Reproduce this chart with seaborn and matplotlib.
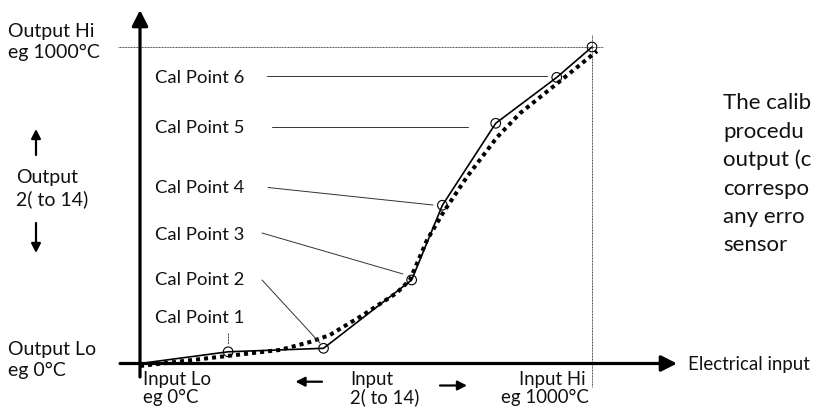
import matplotlib
matplotlib.use('Agg')
import matplotlib.pyplot as plt
import pandas as pd
import seaborn as sns

# values, input and output both on a 0..1000 degC scale
cal_input = [0, 195, 406, 601, 669, 787, 922, 1000]
cal_output = [0, 37, 48, 264, 500, 759, 904, 1000]
sensor_input = [0, 195, 310, 376, 420, 493, 568, 597, 635, 670, 723, 790, 841, 923, 1011]
sensor_output = [-8, 24, 43, 68, 90, 153, 223, 264, 390, 475, 589, 715, 791, 885, 987]
cal_labels = ['Cal Point 1', 'Cal Point 2', 'Cal Point 3', 'Cal Point 4', 'Cal Point 5', 'Cal Point 6']
note_lines = ['The calib', 'procedu', 'output (c', 'correspo', 'any erro', 'sensor']

cal = pd.DataFrame({'input': cal_input, 'output': cal_output})
sensor = pd.DataFrame({'input': sensor_input, 'output': sensor_output})

sns.set_style('white')
plt.rcParams['font.family'] = ['Lato', 'DejaVu Sans']

W, H = 813, 408
X0, X1 = 140, 592      # pixel of input lo / hi
Y0, Y1 = 363.5, 47     # pixel of output lo / hi
sx = (X1 - X0) / 1000
sy = (Y0 - Y1) / 1000

def px(x, y):
    # pixel position -> data position
    return (x - X0) / sx, (Y0 - y) / sy

fig = plt.figure(figsize=(W / 100, H / 100), dpi=100)
ax = fig.add_axes([0, 0, 1, 1])
ax.set_xlim((0 - X0) / sx, (W - X0) / sx)
ax.set_ylim((Y0 - H) / sy, Y0 / sy)
ax.axis('off')

def ftext(x, y, s, size=13, ha='left'):
    fig.text(x / W, 1 - y / H, s, fontsize=size, ha=ha, va='baseline', color='#111111')

def arrow(tail, tip, lw, hl, hw):
    ax.annotate('', xy=px(*tip), xytext=px(*tail),
                arrowprops=dict(arrowstyle='-|>,head_length=%s,head_width=%s' % (hl, hw),
                                lw=lw, color='black', mutation_scale=10,
                                shrinkA=0, shrinkB=0))

# reference lines at output hi / input hi
ax.plot([px(118, 0)[0], px(603, 0)[0]], [1000, 1000], color='#444444', lw=0.7, ls=(0, (1, 0.6)))
ax.plot([1000, 1000], [px(0, 35)[1], px(0, 387)[1]], color='#444444', lw=0.7, ls=(0, (1, 0.6)))

# axes with arrows
arrow((140, 377), (140, 10), 2.3, 0.95, 0.48)
arrow((120, 363.5), (677, 363.5), 2.3, 0.95, 0.48)

# curves
sns.lineplot(data=sensor, x='input', y='output', sort=False, ax=ax, color='black',
             lw=2.9, linestyle=(0, (1, 1)))
sns.lineplot(data=cal, x='input', y='output', sort=False, ax=ax, color='black', lw=1.2)
sns.scatterplot(data=cal.iloc[1:], x='input', y='output', ax=ax, marker='o', s=48,
                facecolor='none', edgecolor='black', linewidth=0.8, zorder=5)

# cal point labels and leaders
label_base = [323, 285, 240, 193, 132.7, 82.7]
leaders = [((227.7, 333), (227.7, 344)), ((262, 280), (320, 343)), ((262, 233), (403, 274)),
           ((268, 187.5), (433, 205)), ((272, 126.7), (468, 126.7)), ((267, 75.7), (547, 75.7))]
for lab, yb, (a, b) in zip(cal_labels, label_base, leaders):
    ftext(155, yb, lab, 13.3)
    (xa, ya), (xb, yb2) = px(*a), px(*b)
    style = (0, (2, 1)) if lab == 'Cal Point 1' else '-'
    ax.plot([xa, xb], [ya, yb2], color='#333333', lw=0.7, ls=style)

# side labels
ftext(8, 36.7, 'Output Hi', 14)
ftext(8, 58.3, 'eg 1000°C', 14)
ftext(16, 183, 'Output', 14)
ftext(16, 205, '2( to 14)', 14)
ftext(8, 355, 'Output Lo', 14)
ftext(8, 376, 'eg 0°C', 14)
arrow((36, 155), (36, 129), 1.6, 0.55, 0.28)
arrow((36, 223), (36, 253), 1.6, 0.55, 0.28)

# bottom labels
ftext(143, 385, 'Input Lo', 13.4)
ftext(143, 403, 'eg 0°C', 13.4)
ftext(350, 385, 'Input', 13.4)
ftext(350, 403, '2( to 14)', 13.4)
ftext(586, 385, 'Input Hi', 13.4, ha='right')
ftext(589, 403, 'eg 1000°C', 13.4, ha='right')
arrow((322, 381.7), (295.5, 381.7), 1.6, 0.55, 0.28)
arrow((440, 385.5), (467, 385.5), 1.6, 0.55, 0.28)
ftext(688, 370, 'Electrical input', 13.4)

# note on the right, cut by the page edge
for i, line in enumerate(note_lines):
    ftext(723, 109.3 + 28.4 * i, line, 16)

fig.savefig('out.png', dpi=100)
